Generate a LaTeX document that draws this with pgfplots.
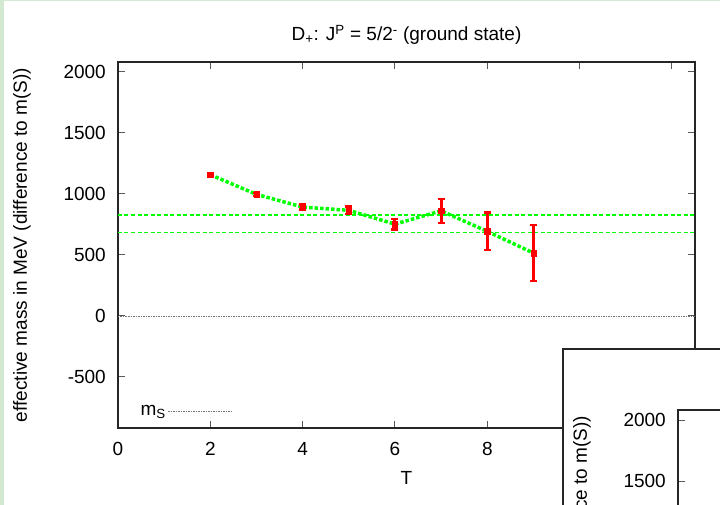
\documentclass[border=0pt]{standalone}
\usepackage{pgfplots}
\usepackage{pgfplotstable}
\pgfplotsset{compat=1.18}
\usepackage{fontspec}
\setmainfont{Liberation Sans}
\definecolor{bggreen}{RGB}{210,232,208}
\definecolor{fitgreen}{RGB}{0,255,0}
\definecolor{gred}{RGB}{255,0,0}

\pgfplotstableread{
T m e
2 1158 11
3 997 12
4 893 19
5 866 31
6 753 43
7 862 98
8 694 154
9 516 231
}\effmass

\newcommand{\lfont}{\fontsize{19}{22}\selectfont}

\pgfplotsset{mystyle/.style={
  scale only axis, width=577pt, height=366pt,
  xmin=0, xmax=12.5, ymin=-918, ymax=2082,
  xtick={0,2,...,12}, ytick={-500,0,...,2000},
  axis line style={line width=1.2pt, black!85},
  major tick length=7pt,
  every tick/.style={black!65, line width=1pt},
  tick align=inside,
  /pgf/number format/assume math mode=true,
  /pgf/number format/1000 sep={},
  tick label style={font=\lfont},
  label style={font=\lfont},
  title style={font=\lfont, at={(axis description cs:0.5,1.0574)}, anchor=center},
  xticklabel style={anchor=center, inner sep=0pt, yshift=-21pt},
  yticklabel style={anchor=east, inner sep=0pt, xshift=-12pt},
  xlabel={T},
  xlabel style={at={(axis description cs:0.5,-0.1366)}, anchor=center},
  ylabel={effective mass in MeV (difference to m(S))},
  ylabel style={at={(axis description cs:-0.1664,0.5)}, anchor=center, rotate=0},
  title={D\textsubscript{+}: J\textsuperscript{P} = 5/2\textsuperscript{-} (ground state)},
  legend plot pos=right,
  legend style={draw=none, fill=none, font=\lfont, at={(0.03,0.046)}, anchor=west},
  legend image code/.code={\path (0pt,0pt) -- (10pt,0pt); \draw[#1] (10pt,0pt) -- (65pt,0pt);},
}}

\newcommand{\plotall}{%
  \addplot[black!55, dash pattern=on 1.5pt off 1pt, line width=0.8pt] coordinates {(0,0) (12.5,0)};
  \addlegendentry{m\textsubscript{S}}
  \addplot[fitgreen, dash pattern=on 4pt off 2.5pt, line width=1.3pt, forget plot] coordinates {(0,684) (12.5,684)};
  \addplot[fitgreen, dash pattern=on 4pt off 2.5pt, line width=1.3pt, forget plot] coordinates {(0,827) (12.5,827)};
  \addplot[fitgreen, line width=3.5pt, dash pattern=on 3.5pt off 2pt, no marks, forget plot] table[x=T,y=m]{\effmass};
  \addplot[gred, only marks, mark=square*, mark size=2.7pt, forget plot,
    error bars/.cd, y dir=both, y explicit,
    error bar style={line width=3pt, gred},
    error mark options={gred, rotate=90, mark size=3.5pt, line width=2.5pt}]
    table[x=T,y=m,y error=e]{\effmass};
}

\begin{document}
\begin{tikzpicture}[x=1pt,y=1pt]
\fill[bggreen] (0,0) rectangle (720,505);
\fill[white] (4,0) rectangle (720,504);
\begin{axis}[mystyle, at={(118pt,77pt)}, anchor=south west]
\plotall
\end{axis}
\begin{scope}
\clip (563,-2) rectangle (722,156);
\fill[white] (563,-2) rectangle (722,156);
\begin{axis}[mystyle, at={(678pt,-271pt)}, anchor=south west]
\plotall
\end{axis}
\end{scope}
\draw[line width=1.2pt, black!85] (563,-3) |- (723,156);
\pgfresetboundingbox
\path[use as bounding box] (0,0) rectangle (720,505);
\end{tikzpicture}
\end{document}
